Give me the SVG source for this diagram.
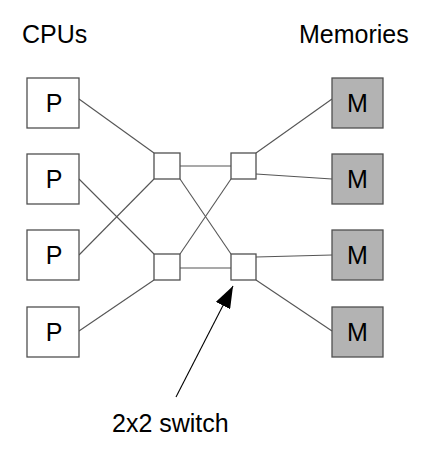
<svg xmlns="http://www.w3.org/2000/svg" width="434" height="460" viewBox="0 0 434 460">
<style>
.box{fill:#fff;stroke:#505050;stroke-width:1.3}
.mem{fill:#b3b3b3;stroke:#505050;stroke-width:1.3}
.sw{fill:#fff;stroke:#505050;stroke-width:1.3}
.lbl{font-family:"Liberation Sans",Arial,sans-serif;font-size:25px;fill:#000}
.nd{font-family:"Liberation Sans",Arial,sans-serif;font-size:25px;fill:#000;text-anchor:middle}
.cn{stroke:#555;stroke-width:1.1;fill:none}
</style>
<defs>
<marker id="ah" viewBox="0 0 22 16" refX="22" refY="8" markerWidth="22" markerHeight="16" markerUnits="userSpaceOnUse" orient="auto">
<path d="M0,0 L22,8 L0,16 Z" fill="#000"/>
</marker>
</defs>
<rect width="434" height="460" fill="#fff"/>
<g id="connectors">
<line class="cn" x1="79" y1="99" x2="154" y2="153"/>
<line class="cn" x1="79" y1="179" x2="154" y2="254"/>
<line class="cn" x1="79" y1="255" x2="154" y2="179"/>
<line class="cn" x1="79" y1="331" x2="154" y2="280"/>
<line class="cn" x1="180" y1="166" x2="231" y2="166"/>
<line class="cn" x1="180" y1="179" x2="231" y2="254"/>
<line class="cn" x1="180" y1="254" x2="231" y2="179"/>
<line class="cn" x1="180" y1="268" x2="231" y2="268"/>
<line class="cn" x1="256" y1="153" x2="332" y2="99"/>
<line class="cn" x1="256" y1="174" x2="332" y2="179"/>
<line class="cn" x1="256" y1="257" x2="332" y2="255"/>
<line class="cn" x1="256" y1="280" x2="332" y2="331"/>
<line x1="176" y1="397" x2="233" y2="286" stroke="#000" stroke-width="1.1" marker-end="url(#ah)"/>
</g>
<g id="label-cpus"><text class="lbl" x="22" y="43">CPUs</text></g>
<g id="label-memories"><text class="lbl" x="299" y="43">Memories</text></g>
<g id="label-switch"><text class="lbl" x="112" y="432">2x2 switch</text></g>
<g id="p1"><rect class="box" x="27" y="78" width="52" height="50"/><text class="nd" x="54" y="112">P</text></g>
<g id="p2"><rect class="box" x="27" y="154" width="52" height="50"/><text class="nd" x="54" y="188">P</text></g>
<g id="p3"><rect class="box" x="27" y="230" width="52" height="50"/><text class="nd" x="54" y="264">P</text></g>
<g id="p4"><rect class="box" x="27" y="307" width="52" height="50"/><text class="nd" x="54" y="341">P</text></g>
<g id="m1"><rect class="mem" x="332" y="78" width="51" height="50"/><text class="nd" x="357.5" y="112">M</text></g>
<g id="m2"><rect class="mem" x="332" y="154" width="51" height="50"/><text class="nd" x="357.5" y="188">M</text></g>
<g id="m3"><rect class="mem" x="332" y="230" width="51" height="50"/><text class="nd" x="357.5" y="264">M</text></g>
<g id="m4"><rect class="mem" x="332" y="307" width="51" height="50"/><text class="nd" x="357.5" y="341">M</text></g>
<g id="s1"><rect class="sw" x="154" y="153" width="26" height="26"/></g>
<g id="s2"><rect class="sw" x="154" y="254" width="26" height="26"/></g>
<g id="s3"><rect class="sw" x="231" y="153" width="25" height="26"/></g>
<g id="s4"><rect class="sw" x="231" y="254" width="25" height="26"/></g>
</svg>
